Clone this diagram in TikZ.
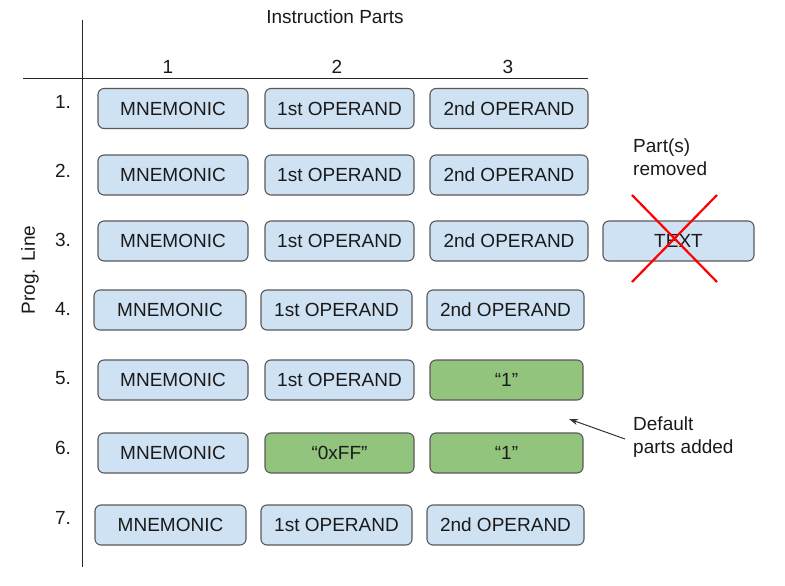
\documentclass[tikz,border=0pt]{standalone}
\usepackage{fontspec}
\setmainfont{Liberation Sans}
\usetikzlibrary{arrows.meta}
\begin{document}
\begin{tikzpicture}[x=1pt,y=-1pt,
  part/.style={draw=boxline, line width=1.1pt, rounded corners=6pt, fill=partblue, minimum height=40pt, inner sep=0pt, text=textdark, font=\fontsize{19}{22}\selectfont},
  addpart/.style={part, fill=partgreen},
  lbl/.style={inner sep=0pt, text=textdark, font=\fontsize{19}{22}\selectfont},
  axis/.style={draw=black!85, line width=0.9pt}]
\definecolor{partblue}{HTML}{CFE2F3}
\definecolor{partgreen}{HTML}{93C47D}
\definecolor{boxline}{HTML}{595959}
\definecolor{textdark}{HTML}{1A1A1A}
\useasboundingbox (0,0) rectangle (785,586);
% axes
\coordinate (vt) at (82,20); \coordinate (vb) at (82,567);
\coordinate (hl) at (23,78); \coordinate (hr) at (588,78);
\draw[axis] (vt) -- (vb);
\draw[axis] (hl) -- (hr);
\node[lbl] (title) at (335,17) {Instruction Parts};
\node[lbl] (c1) at (168,67) {1};
\node[lbl] (c2) at (337,67) {2};
\node[lbl] (c3) at (508,67) {3};
\node[lbl, rotate=90] (prog) at (30,270) {Prog. Line};
% row labels
\node[lbl] (r1) at (63,102) {1.};
\node[lbl] (r2) at (63,171) {2.};
\node[lbl] (r3) at (63,240) {3.};
\node[lbl] (r4) at (63,309) {4.};
\node[lbl] (r5) at (63,378) {5.};
\node[lbl] (r6) at (63,448) {6.};
\node[lbl] (r7) at (63,518) {7.};
% rows
\node[part, minimum width=150pt] (m1) at (173,108.5) {MNEMONIC};
\node[part, minimum width=149pt] (a1) at (339.5,108.5) {1st OPERAND};
\node[part, minimum width=158pt] (b1) at (509,108.5) {2nd OPERAND};
\node[part, minimum width=150pt] (m2) at (173,175) {MNEMONIC};
\node[part, minimum width=149pt] (a2) at (339.5,175) {1st OPERAND};
\node[part, minimum width=158pt] (b2) at (509,175) {2nd OPERAND};
\node[part, minimum width=150pt] (m3) at (173,241) {MNEMONIC};
\node[part, minimum width=149pt] (a3) at (339.5,241) {1st OPERAND};
\node[part, minimum width=158pt] (b3) at (509,241) {2nd OPERAND};
\node[part, minimum width=151pt] (t3) at (678.5,241) {TEXT};
\node[part, minimum width=152pt] (m4) at (170,310) {MNEMONIC};
\node[part, minimum width=151pt] (a4) at (336.5,310) {1st OPERAND};
\node[part, minimum width=157pt] (b4) at (505.5,310) {2nd OPERAND};
\node[part, minimum width=150pt] (m5) at (173,380) {MNEMONIC};
\node[part, minimum width=149pt] (a5) at (339.5,380) {1st OPERAND};
\node[addpart, minimum width=153pt] (b5) at (506.5,380) {“1”};
\node[part, minimum width=150pt] (m6) at (173,453) {MNEMONIC};
\node[addpart, minimum width=149pt] (a6) at (339.5,453) {“0xFF”};
\node[addpart, minimum width=153pt] (b6) at (506.5,453) {“1”};
\node[part, minimum width=151pt] (m7) at (170.5,525) {MNEMONIC};
\node[part, minimum width=151pt] (a7) at (336.5,525) {1st OPERAND};
\node[part, minimum width=157pt] (b7) at (505.5,525) {2nd OPERAND};
% removed annotation
\node[lbl, align=left, anchor=north west, font=\fontsize{19}{23}\selectfont] (rem) at (633,139) {Part(s)\\removed};
\coordinate (xa) at (632,195); \coordinate (xb) at (717,282);
\coordinate (xc) at (717,195); \coordinate (xd) at (632,282);
\draw[red, line width=2.2pt] (xa) -- (xb);
\draw[red, line width=2.2pt] (xc) -- (xd);
% added annotation
\node[lbl, align=left, anchor=north west, font=\fontsize{19}{23}\selectfont] (add) at (633,417) {Default\\parts added};
\coordinate (arrtail) at (625,439);
\coordinate (arrtip) at (569,419);
\draw[line width=1pt, draw=black!80, -{Stealth[length=9pt,width=6pt]}] (arrtail) -- (arrtip);
\end{tikzpicture}
\end{document}
